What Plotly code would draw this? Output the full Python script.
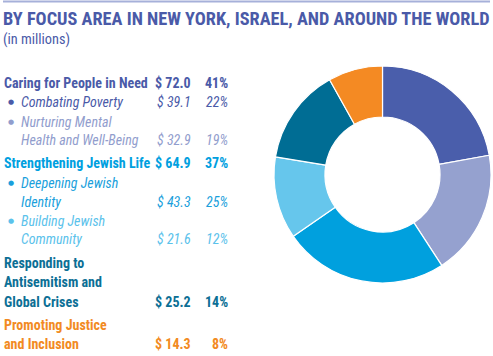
import plotly.graph_objects as go

W, H = 493, 356

# ---- data ----
categories = ["Combating Poverty", "Nurturing Mental Health and Well-Being",
              "Deepening Jewish Identity", "Building Jewish Community",
              "Responding to Antisemitism and Global Crises",
              "Promoting Justice and Inclusion"]
values = [39.1, 32.9, 43.3, 21.6, 25.2, 14.3]
slice_colors = ["#4a5eab", "#95a1cf", "#00a0de", "#66c6ec", "#006d94", "#f48a23"]

# legend table rows
row_lines = [
    ["Caring for People in Need"],
    ["Combating Poverty"],
    ["Nurturing Mental", "Health and Well-Being"],
    ["Strengthening Jewish Life"],
    ["Deepening Jewish", "Identity"],
    ["Building Jewish", "Community"],
    ["Responding to", "Antisemitism and", "Global Crises"],
    ["Promoting Justice", "and Inclusion"],
]
row_amounts = [72.0, 39.1, 32.9, 64.9, 43.3, 21.6, 25.2, 14.3]
row_pcts = [41, 22, 19, 37, 25, 12, 14, 8]
row_colors = ["#4a5aa8", "#4a5aa8", "#919dcd", "#00a0df", "#1a9fdc", "#5bc2eb", "#0c6f95", "#f28a22"]
row_sub = [False, True, True, False, True, True, False, False]
row_y = [[83], [102], [122, 140], [163], [183, 202], [221, 239], [263, 282, 302], [325, 344]]

FONT = "Roboto Condensed, Open Sans Condensed, DejaVu Sans Condensed, sans-serif"

fig = go.Figure()
fig.add_trace(go.Pie(
    labels=categories, values=values, sort=False, direction="clockwise",
    rotation=0, hole=0.53, textinfo="none", hoverinfo="label+value+percent",
    marker=dict(colors=slice_colors, line=dict(color="white", width=1.2)),
    domain=dict(x=[274 / W, 491 / W], y=[1 - 283 / H, 1 - 66 / H]),
    showlegend=False,
))

def py(ypx):
    return 1 - ypx / H

ann = []
ann.append(dict(text="<b>BY FOCUS AREA IN NEW YORK, ISRAEL, AND AROUND THE WORLD</b>",
                x=0.5 / W, y=py(19), xanchor="left", yanchor="middle",
                font=dict(family=FONT, size=18.3, color="#4a5aa8")))
ann.append(dict(text="(in millions)", x=1 / W, y=py(39), xanchor="left", yanchor="middle",
                font=dict(family=FONT, size=14.3, color="#4a5aa8")))

for lines, amt, pct, col, sub, ys in zip(row_lines, row_amounts, row_pcts, row_colors, row_sub, row_y):
    size = 14
    for i, (ln, yy) in enumerate(zip(lines, ys)):
        if sub:
            txt = "<i>%s</i>" % ln
            xx = 19
            if i == 0:
                ann.append(dict(text="\u25cf", x=6 / W, y=py(yy), xanchor="left", yanchor="middle",
                                font=dict(family="DejaVu Sans", size=7, color=col)))
        else:
            txt = "<b>%s</b>" % ln
            xx = 2
        ann.append(dict(text=txt, x=xx / W, y=py(yy), xanchor="left", yanchor="middle",
                        font=dict(family=FONT, size=size, color=col)))
    yl = ys[-1]
    a_txt = "$ %.1f" % amt
    p_txt = "%d%%" % pct
    if sub:
        a_txt, p_txt = "<i>%s</i>" % a_txt, "<i>%s</i>" % p_txt
    else:
        a_txt, p_txt = "<b>%s</b>" % a_txt, "<b>%s</b>" % p_txt
    ann.append(dict(text=a_txt, x=193 / W, y=py(yl), xanchor="right", yanchor="middle",
                    font=dict(family=FONT, size=size, color=col)))
    ann.append(dict(text=p_txt, x=230 / W, y=py(yl), xanchor="right", yanchor="middle",
                    font=dict(family=FONT, size=size, color=col)))

for a in ann:
    a.update(xref="paper", yref="paper", showarrow=False)

fig.update_layout(
    width=W, height=H, margin=dict(l=0, r=0, t=0, b=0),
    paper_bgcolor="white", plot_bgcolor="white",
    annotations=ann,
    shapes=[dict(type="line", xref="paper", yref="paper", x0=3 / W, x1=490 / W,
                 y0=py(1.5), y1=py(1.5), line=dict(color="#a6b0d9", width=2))],
)
fig.write_html("out.html", config={"displayModeBar": False},
               post_script="document.body.style.margin='0';")
